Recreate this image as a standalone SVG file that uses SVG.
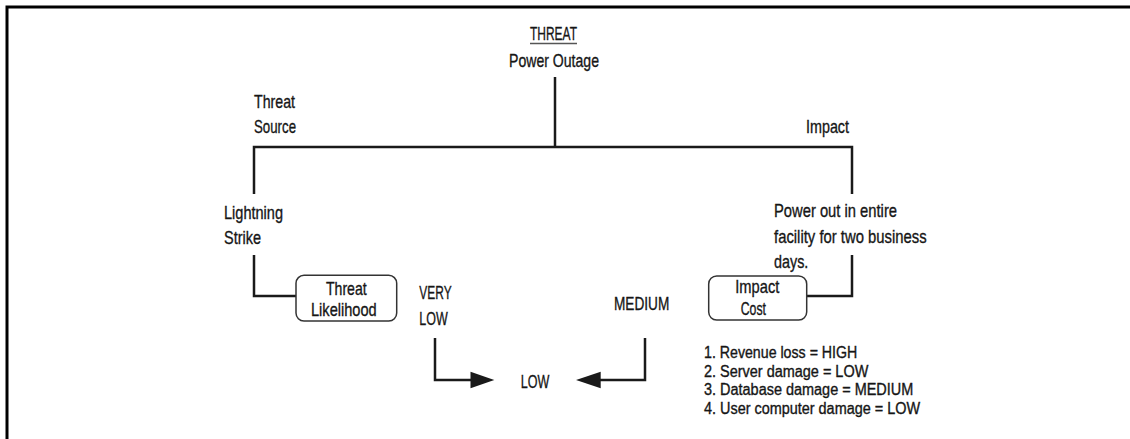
<svg xmlns="http://www.w3.org/2000/svg" width="1130" height="439" viewBox="0 0 1130 439">
  <style>
    text { font-family: "Liberation Sans", Arial, sans-serif; font-size: 19px; fill: #161616; stroke: #161616; stroke-width: 0.35; }
    .list { font-size: 16px; }
    .wire { fill: none; stroke: #1a1a1a; stroke-width: 2.5; }
    .box { fill: #fff; stroke: #333; stroke-width: 1.5; }
    .frame { fill: none; stroke: #000; stroke-width: 3; }
    .head { fill: #1a1a1a; }
  </style>

  <rect width="1130" height="439" fill="#fff"/>

  <!-- outer frame: top and left edges only -->
  <path class="frame" d="M7,439 V7 H1130"/>

  <!-- connectors -->
  <g id="connectors">
    <path class="wire" d="M555,77 V147"/>
    <path class="wire" d="M254,194 V147 H852 V194"/>
    <path class="wire" d="M254,255 V296 H296"/>
    <path class="wire" d="M852,255 V296 H807"/>
    <path class="wire" d="M435,338 V380 H472"/>
    <polygon class="head" points="470.5,371.7 494.3,380 470.5,388.3"/>
    <path class="wire" d="M645,338 V380 H598"/>
    <polygon class="head" points="600.7,371.7 576,380 600.7,388.3"/>
  </g>

  <g id="threat">
    <text x="530" y="40" textLength="47" lengthAdjust="spacingAndGlyphs">THREAT</text>
    <line x1="530" y1="43.5" x2="577" y2="43.5" stroke="#555" stroke-width="1.5"/>
    <text x="509" y="67" textLength="90" lengthAdjust="spacingAndGlyphs">Power Outage</text>
  </g>

  <g id="threat-source">
    <text x="254" y="108" textLength="41" lengthAdjust="spacingAndGlyphs">Threat</text>
    <text x="254" y="133" textLength="42" lengthAdjust="spacingAndGlyphs">Source</text>
  </g>

  <g id="impact">
    <text x="806" y="133" textLength="43" lengthAdjust="spacingAndGlyphs">Impact</text>
  </g>

  <g id="lightning-strike">
    <text x="224" y="219" textLength="59" lengthAdjust="spacingAndGlyphs">Lightning</text>
    <text x="224" y="244" textLength="37" lengthAdjust="spacingAndGlyphs">Strike</text>
  </g>

  <g id="power-out">
    <text x="774" y="216.5" textLength="123" lengthAdjust="spacingAndGlyphs">Power out in entire</text>
    <text x="774" y="242.5" textLength="152.7" lengthAdjust="spacingAndGlyphs">facility for two business</text>
    <text x="774" y="268" textLength="34.3" lengthAdjust="spacingAndGlyphs">days.</text>
  </g>

  <g id="threat-likelihood">
    <rect class="box" x="296" y="275.3" width="100.7" height="45.7" rx="8"/>
    <text x="326" y="295" textLength="40.7" lengthAdjust="spacingAndGlyphs">Threat</text>
    <text x="311" y="316" textLength="65.7" lengthAdjust="spacingAndGlyphs">Likelihood</text>
  </g>

  <g id="very-low">
    <text x="419.3" y="299" textLength="32.3" lengthAdjust="spacingAndGlyphs">VERY</text>
    <text x="419.3" y="325" textLength="28.4" lengthAdjust="spacingAndGlyphs">LOW</text>
  </g>

  <g id="medium">
    <text x="614" y="310" textLength="55.3" lengthAdjust="spacingAndGlyphs">MEDIUM</text>
  </g>

  <g id="impact-cost">
    <rect class="box" x="708.7" y="276" width="98" height="44" rx="8"/>
    <text x="735.3" y="293" textLength="44" lengthAdjust="spacingAndGlyphs">Impact</text>
    <text x="740.7" y="315" textLength="25.3" lengthAdjust="spacingAndGlyphs">Cost</text>
  </g>

  <g id="low">
    <text x="520.7" y="388" textLength="28.6" lengthAdjust="spacingAndGlyphs">LOW</text>
  </g>

  <g id="cost-list">
    <text class="list" x="704" y="358" textLength="153.3" lengthAdjust="spacingAndGlyphs">1. Revenue loss = HIGH</text>
    <text class="list" x="704" y="376.5" textLength="164.3" lengthAdjust="spacingAndGlyphs">2. Server damage = LOW</text>
    <text class="list" x="704" y="395" textLength="209.3" lengthAdjust="spacingAndGlyphs">3. Database damage = MEDIUM</text>
    <text class="list" x="704" y="413.5" textLength="216" lengthAdjust="spacingAndGlyphs">4. User computer damage = LOW</text>
  </g>
</svg>
